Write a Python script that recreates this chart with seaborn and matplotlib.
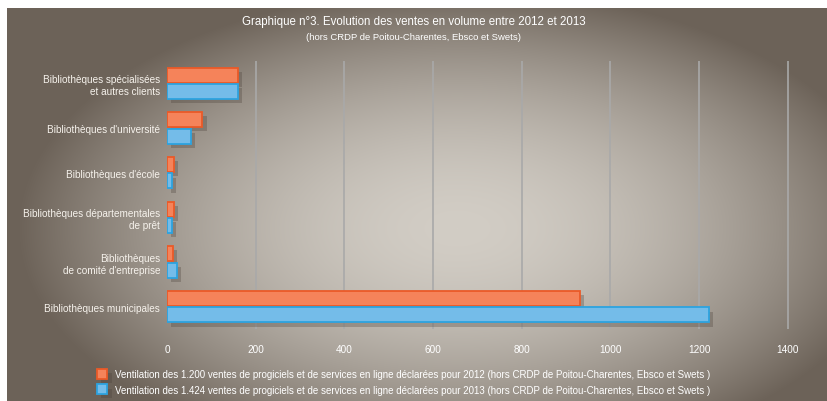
import numpy as np
import pandas as pd
import matplotlib.pyplot as plt
import matplotlib.patheffects as pe
import seaborn as sns

# valeurs
categories = [
    "Bibliothèques spécialisées\net autres clients",
    "Bibliothèques d'université",
    "Bibliothèques d'école",
    "Bibliothèques départementales\nde prêt",
    "Bibliothèques\nde comité d'entreprise",
    "Bibliothèques municipales",
]
ventes_2012 = [159, 80, 16, 16, 13, 932]
ventes_2013 = [159, 54, 12, 12, 22, 1222]
series = [
    "Ventilation des 1.200 ventes de progiciels et de services en ligne déclarées pour 2012 (hors CRDP de Poitou-Charentes, Ebsco et Swets )",
    "Ventilation des 1.424 ventes de progiciels et de services en ligne déclarées pour 2013 (hors CRDP de Poitou-Charentes, Ebsco et Swets )",
]
xticks = [0, 200, 400, 600, 800, 1000, 1200, 1400]

df = pd.DataFrame({
    "categorie": categories * 2,
    "ventes": ventes_2012 + ventes_2013,
    "serie": [series[0]] * len(categories) + [series[1]] * len(categories),
})

plt.rcParams['font.family'] = ['Liberation Sans', 'DejaVu Sans']
W, H = 828, 402
fig = plt.figure(figsize=(W / 100, H / 100), dpi=100, facecolor='white')

# fond en dégradé
bg = fig.add_axes([7 / W, 0, (W - 7) / W, (H - 9) / H])
yy, xx = np.mgrid[0:393, 0:821]
r = np.sqrt(((xx - 450) / 440) ** 2 + ((yy - 220) / 240) ** 2)
t = np.clip(r, 0, 1)[..., None] ** 1.8
light = np.array([210, 205, 197]) / 255
dark = np.array([108, 98, 88]) / 255
bg.imshow(light * (1 - t) + dark * t, aspect='auto', interpolation='bilinear')
bg.axis('off')

ax = fig.add_axes([167 / W, (H - 330) / H, (790 - 167) / W, (330 - 62) / H])
ax.patch.set_alpha(0)

orange, blue = '#f5835a', '#74bce9'
sns.barplot(data=df, y='categorie', x='ventes', hue='serie', order=categories,
            hue_order=series, palette=[orange, blue], orient='h', saturation=1,
            width=0.74, gap=0.1, legend=False, ax=ax)

edges = ['#ea5a28', '#2ca3e0']
for cont, ec in zip(ax.containers, edges):
    for bar in cont:
        bar.set_edgecolor(ec)
        bar.set_linewidth(1.3)
        bar.set_path_effects([pe.SimplePatchShadow(offset=(3, -3), shadow_rgbFace='#4a4038', alpha=0.3),
                              pe.Normal()])

ax.set_xlim(0, 1405)
ax.set_xticks(xticks)
ax.xaxis.grid(True, color='#a9a9a9', linewidth=1.2)
ax.get_xgridlines()[0].set_visible(False)
ax.set_axisbelow(True)
for s in ax.spines.values():
    s.set_visible(False)
ax.tick_params(axis='x', length=0, pad=11, labelsize=7.2, labelcolor='white')
ax.tick_params(axis='y', length=0, pad=5, labelsize=7.2, labelcolor='#f6f2ec')
for lab in ax.get_yticklabels():
    lab.set_horizontalalignment('right')
ax.set_xlabel('')
ax.set_ylabel('')

fig.text(0.5, 1 - 22 / H, "Graphique n°3. Evolution des ventes en volume entre 2012 et 2013",
         ha='center', va='center', color='white', fontsize=8.3)
fig.text(0.5, 1 - 38 / H, "(hors CRDP de Poitou-Charentes, Ebsco et Swets)",
         ha='center', va='center', color='white', fontsize=6.8)

fig.legend(handles=list(ax.containers), labels=series, loc='upper left',
           bbox_to_anchor=(88 / W, 1 - 361 / H), frameon=False, fontsize=7.0,
           labelcolor='white', handlelength=1.1, handleheight=1.2,
           handletextpad=0.75, labelspacing=0.55)

fig.savefig('out.png', dpi=100, facecolor='white')
